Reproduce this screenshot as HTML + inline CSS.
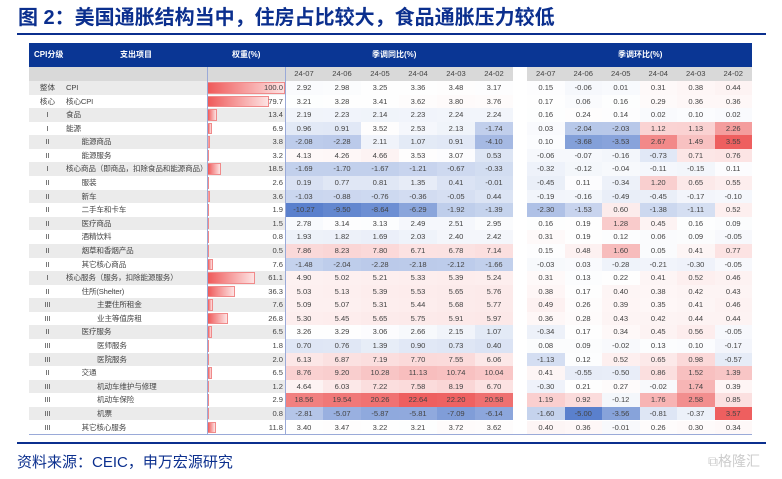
<!DOCTYPE html>
<html><head><meta charset="utf-8">
<style>
*{margin:0;padding:0;box-sizing:border-box}
body{width:782px;height:479px;background:#fff;position:relative;overflow:hidden;font-family:"Liberation Sans","Noto Sans CJK SC",sans-serif}
.abs{position:absolute}
.t{font-size:7.6px;color:#444;line-height:13.6px;white-space:nowrap}
.hd{color:#fff;font-size:8px;font-weight:bold;line-height:24px}
</style></head><body>
<div class="abs" style="left:18px;top:4px;font-size:20px;font-weight:bold;color:#0b2f8e;font-family:'Liberation Sans','Noto Sans CJK SC',sans-serif;line-height:28px">图 2：美国通胀结构当中，住房占比较大，食品通胀压力较低</div>
<div class="abs" style="left:17px;top:33px;width:749px;height:2px;background:#0b2f8e"></div>
<div id="tbl" class="abs" style="left:0;top:0;width:782px;height:479px"></div>
<div class="abs" style="left:17px;top:442px;width:749px;height:2px;background:#0b2f8e"></div>
<div class="abs" style="left:17px;top:452px;font-size:15px;color:#0b2f8e;line-height:22px">资料来源：CEIC，申万宏源研究</div>
<div class="abs" style="left:708px;top:452px;font-size:14px;color:#ccc;line-height:18px">⧉格隆汇</div>
<script>
const levels=["整体","核心","I","I","II","II","I","II","II","II","II","II","II","II","I","II","III","III","II","III","III","II","III","III","III","III"];
const items=["CPI","核心CPI","食品","能源","能源商品","能源服务","核心商品（即商品，扣除食品和能源商品）","服装","新车","二手车和卡车","医疗商品","酒精饮料","烟草和香烟产品","其它核心商品","核心服务（服务，扣除能源服务）","住所(Shelter)","主要住所租金","业主等值房租","医疗服务","医师服务","医院服务","交通","机动车维护与修理","机动车保险","机票","其它核心服务"];
const indents=[0,0,0,0,1,1,0,1,1,1,1,1,1,1,0,1,2,2,1,2,2,1,2,2,2,1];
const weights=[100.0,79.7,13.4,6.9,3.8,3.2,18.5,2.6,3.6,1.9,1.5,0.8,0.5,7.6,61.1,36.3,7.6,26.8,6.5,1.8,2.0,6.5,1.2,2.9,0.8,11.8];
const months=["24-07","24-06","24-05","24-04","24-03","24-02"];
const yoy=[[2.92,2.98,3.25,3.36,3.48,3.17],[3.21,3.28,3.41,3.62,3.80,3.76],[2.19,2.23,2.14,2.23,2.24,2.24],[0.96,0.91,3.52,2.53,2.13,-1.74],[-2.08,-2.28,2.11,1.07,0.91,-4.10],[4.13,4.26,4.66,3.53,3.07,0.53],[-1.69,-1.70,-1.67,-1.21,-0.67,-0.33],[0.19,0.77,0.81,1.35,0.41,-0.01],[-1.03,-0.88,-0.76,-0.36,-0.05,0.44],[-10.27,-9.50,-8.64,-6.29,-1.92,-1.39],[2.78,3.14,3.13,2.49,2.51,2.95],[1.93,1.82,1.69,2.03,2.40,2.42],[7.86,8.23,7.80,6.71,6.78,7.14],[-1.48,-2.04,-2.28,-2.18,-2.12,-1.66],[4.90,5.02,5.21,5.33,5.39,5.24],[5.03,5.13,5.39,5.53,5.65,5.76],[5.09,5.07,5.31,5.44,5.68,5.77],[5.30,5.45,5.65,5.75,5.91,5.97],[3.26,3.29,3.06,2.66,2.15,1.07],[0.70,0.76,1.39,0.90,0.73,0.40],[6.13,6.87,7.19,7.70,7.55,6.06],[8.76,9.20,10.28,11.13,10.74,10.04],[4.64,6.03,7.22,7.58,8.19,6.70],[18.56,19.54,20.26,22.64,22.20,20.58],[-2.81,-5.07,-5.87,-5.81,-7.09,-6.14],[3.40,3.47,3.22,3.21,3.72,3.62]];
const mom=[[0.15,-0.06,0.01,0.31,0.38,0.44],[0.17,0.06,0.16,0.29,0.36,0.36],[0.16,0.24,0.14,0.02,0.10,0.02],[0.03,-2.04,-2.03,1.12,1.13,2.26],[0.10,-3.68,-3.53,2.67,1.49,3.55],[-0.06,-0.07,-0.16,-0.73,0.71,0.76],[-0.32,-0.12,-0.04,-0.11,-0.15,0.11],[-0.45,0.11,-0.34,1.20,0.65,0.55],[-0.19,-0.16,-0.49,-0.45,-0.17,-0.10],[-2.30,-1.53,0.60,-1.38,-1.11,0.52],[0.16,0.19,1.28,0.45,0.16,0.09],[0.31,0.19,0.12,0.06,0.09,-0.05],[0.15,0.48,1.60,0.05,0.41,0.77],[-0.03,0.03,-0.28,-0.21,-0.30,-0.05],[0.31,0.13,0.22,0.41,0.52,0.46],[0.38,0.17,0.40,0.38,0.42,0.43],[0.49,0.26,0.39,0.35,0.41,0.46],[0.36,0.28,0.43,0.42,0.44,0.44],[-0.34,0.17,0.34,0.45,0.56,-0.05],[0.08,0.09,-0.02,0.13,0.10,-0.17],[-1.13,0.12,0.52,0.65,0.98,-0.57],[0.41,-0.55,-0.50,0.86,1.52,1.39],[-0.30,0.21,0.27,-0.02,1.74,0.39],[1.19,0.92,-0.12,1.76,2.58,0.85],[-1.60,-5.00,-3.56,-0.81,-0.37,3.57],[0.40,0.36,-0.01,0.26,0.30,0.34]];

const T=document.getElementById('tbl');
const L=29,R=752,HT=43,HB=67,ST=81,RH=13.58;
function div(css,txt,cls){const d=document.createElement('div');d.className='abs '+(cls||'');d.style.cssText=css;if(txt!==undefined)d.textContent=txt;T.appendChild(d);return d;}
const yoyX=285,yoyW=38,momX=527,momW=37.5;
function color(v,mid,min,max){let r=255,g=255,b=255;
 if(v<mid){const t=Math.min(1,(mid-v)/(mid-min));r=255-t*(255-90);g=255-t*(255-128);b=255-t*(255-205);}
 else{const t=Math.min(1,(v-mid)/(max-mid));r=255-t*(255-238);g=255-t*(255-95);b=255-t*(255-95);}
 return `rgb(${r|0},${g|0},${b|0})`;}
let h=div(`left:${L}px;top:${HT}px;width:${R-L}px;height:${HB-HT}px;background:#0a3694`);

[["CPI分级",34],["支出项目",120],["权重(%)",232],["季调同比(%)",372],["季调环比(%)",618]].forEach(([s,x])=>{const d=div(`left:${x}px;top:${HT}px`,s,'hd');
});
let sb=div(`left:${L}px;top:${HB}px;width:${513-L}px;height:${ST-HB}px;background:#d9d9d9`);

let sb2=div(`left:${momX}px;top:${HB}px;width:${R-momX}px;height:${ST-HB}px;background:#d9d9d9`);

months.forEach((m,j)=>{
 let a=div(`left:${yoyX+j*yoyW}px;top:${HB}px;width:${yoyW}px;text-align:center;line-height:14px`,m,'t');
 
 let b=div(`left:${momX+j*momW}px;top:${HB}px;width:${momW}px;text-align:center;line-height:14px`,m,'t');
 
});
const yAll=yoy.flat(),mAll=mom.flat();
const yMin=Math.min(...yAll),yMax=Math.max(...yAll),mMin=Math.min(...mAll),mMax=Math.max(...mAll);
const yMid=3.3,mMid=0.2;
items.forEach((it,i)=>{
 const y=ST+i*RH;const bg=i%2==0?'#ebebeb':'#fff';
 let rb=div(`left:${L}px;top:${y}px;width:${285-L}px;height:${RH}px;background:${bg}`);
 
 let lv=div(`left:${L}px;top:${y}px;width:37px;text-align:center`,levels[i],'t');
 
 const nx=66+indents[i]*15.5;
 let nm=div(`left:${nx}px;top:${y}px;width:${207-nx}px;overflow:hidden;letter-spacing:-0.15px`,it,'t');
 
 const bw=weights[i]/100*78;
 let bar=div(`left:207px;top:${y+1}px;width:${bw}px;height:${RH-2}px;background:linear-gradient(90deg,#ef5a5a,#fde3e3);border:1px solid #f08a8a`);
 
 let wt=div(`left:207px;top:${y}px;width:76px;text-align:right`,weights[i].toFixed(1),'t');
 
 yoy[i].forEach((v,j)=>{
  let c=div(`left:${yoyX+j*yoyW}px;top:${y}px;width:${yoyW}px;height:${RH}px;text-align:center;background:${color(v,yMid,yMin,yMax)}`,v.toFixed(2),'t');
  
 });
 mom[i].forEach((v,j)=>{
  let c=div(`left:${momX+j*momW}px;top:${y}px;width:${momW}px;height:${RH}px;text-align:center;background:${color(v,mMid,mMin,mMax)}`,v.toFixed(2),'t');
  
 });
});
const end=ST+items.length*RH;
[207,285].forEach((x)=>{let d=div(`left:${x}px;top:${HB}px;width:1px;height:${end-HB}px;background:#9aaad8`);
});
let bl=div(`left:${L}px;top:${end}px;width:${R-L}px;height:1px;background:#9aaad8`);

</script>
</body></html>
